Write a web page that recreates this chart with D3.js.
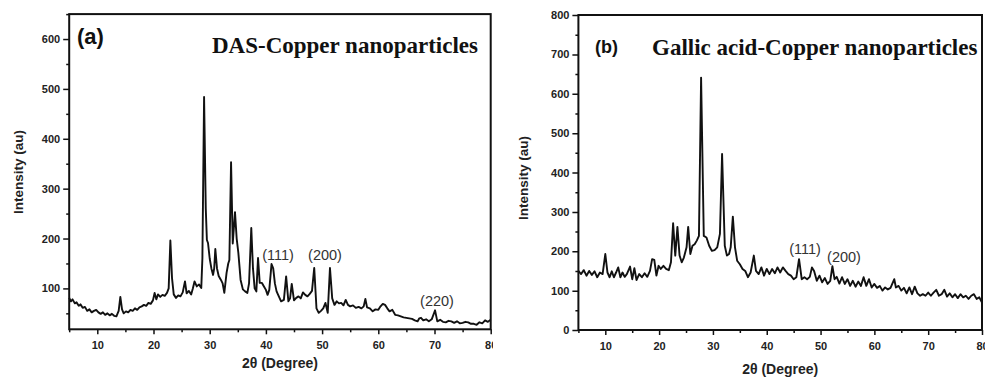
<!DOCTYPE html>
<html>
<head>
<meta charset="utf-8">
<script src="https://cdn.jsdelivr.net/npm/d3@7"></script>
<style>
  body { margin: 0; background: #fff; }
  svg { display: block; }
  .tick text { font-family: "Liberation Sans", Arial, sans-serif; font-weight: bold; font-size: 11px; fill: #222; }
  .axis path, .axis line { stroke: #111; }
</style>
</head>
<body>
<svg id="chart" width="985" height="377"></svg>
<script>
// XRD pattern (a): DAS-Copper nanoparticles, [2theta, intensity]
const dasXrd = [
  [5,81],[5.3,74],[5.6,78],[6,70],[6.3,72],[6.7,65],[7,68],[7.4,61],[7.8,63],[8.2,55],[8.6,58],[9,52],[9.4,55],[9.8,57],
  [10.2,52],[10.6,49],[11,52],[11.4,47],[11.8,50],[12.2,46],[12.6,49],[13,45],[13.4,44],[13.8,55],[14.1,83],[14.4,58],
  [14.7,50],[15.1,54],[15.5,52],[15.9,57],[16.3,55],[16.7,60],[17.1,57],[17.5,62],[17.9,64],[18.3,67],[18.7,65],[19.1,71],
  [19.5,69],[19.9,76],[20.2,91],[20.5,78],[20.8,88],[21.2,83],[21.6,87],[22,85],[22.4,91],[22.7,100],[23,196],[23.3,120],
  [23.6,88],[24,81],[24.4,86],[24.8,84],[25.2,92],[25.6,114],[25.9,90],[26.3,95],[26.7,88],[27,100],[27.3,114],[27.7,104],
  [28.1,108],[28.5,101],[28.7,160],[29,484],[29.3,260],[29.5,197],[29.7,191],[30,160],[30.3,140],[30.6,127],[30.8,140],
  [31,179],[31.3,140],[31.6,125],[32,117],[32.3,110],[32.6,91],[33,131],[33.3,150],[33.5,157],[33.8,353],[34.1,190],
  [34.5,253],[34.8,200],[35.1,171],[35.5,117],[35.9,98],[36.3,94],[36.7,91],[37,110],[37.4,221],[37.7,140],[38,100],
  [38.3,94],[38.6,161],[38.9,111],[39.3,111],[39.6,105],[40,97],[40.3,87],[40.6,97],[41,149],[41.3,140],[41.6,110],
  [41.9,94],[42.3,84],[42.7,74],[43.2,77],[43.6,124],[44,74],[44.3,80],[44.6,109],[45,76],[45.4,81],[45.8,84],[46.2,80],
  [46.6,92],[47,87],[47.4,84],[47.8,89],[48.2,95],[48.6,141],[49,60],[49.4,51],[49.8,55],[50.2,60],[50.6,71],[51,51],
  [51.4,141],[51.8,80],[52.2,67],[52.6,74],[53,70],[53.4,71],[53.8,66],[54.2,77],[54.6,67],[55,64],[55.5,66],[56,61],
  [56.5,63],[57,60],[57.4,64],[57.7,79],[58,62],[58.5,60],[59,54],[59.5,58],[60,57],[60.4,64],[60.8,69],[61.2,67],
  [61.6,60],[62,54],[62.5,57],[63,47],[63.5,46],[64,44],[64.5,42],[65,41],[65.5,40],[66,39],[66.5,36],[67,34],[67.3,40],
  [67.6,41],[68,36],[68.5,38],[69,34],[69.5,38],[70.1,56],[70.5,34],[71,37],[71.5,33],[72,32],[72.5,35],[73,34],
  [73.5,31],[74,34],[74.5,30],[75,31],[75.5,33],[76,32],[76.5,29],[77,29],[77.5,27],[78,32],[78.5,30],[79,36],[79.5,33],[80,37]
];

// XRD pattern (b): Gallic acid-Copper nanoparticles, [2theta, intensity]
const gallicXrd = [
  [5,150],[5.5,142],[6,152],[6.5,138],[7,150],[7.5,140],[8,149],[8.5,134],[9,146],[9.5,142],[10,193],[10.4,146],
  [10.8,134],[11.2,149],[11.6,134],[12,146],[12.4,159],[12.8,134],[13.2,146],[13.6,135],[14,142],[14.6,161],[15,129],
  [15.4,157],[15.8,127],[16.3,142],[16.8,134],[17.3,144],[17.8,135],[18.3,150],[18.7,180],[19.1,178],[19.5,138],[19.9,163],
  [20.3,155],[20.8,163],[21.3,155],[21.8,152],[22.2,172],[22.6,271],[23,189],[23.4,262],[23.8,189],[24.2,172],[24.6,184],
  [25.1,210],[25.4,262],[25.8,193],[26.2,214],[26.6,218],[27,227],[27.4,239],[27.8,641],[28.3,239],[28.8,235],[29.3,214],
  [29.8,201],[30.3,203],[30.8,210],[31.3,244],[31.7,447],[32.2,214],[32.6,189],[33,193],[33.3,210],[33.7,288],[34.1,210],
  [34.5,176],[35,167],[35.5,155],[36,150],[36.5,134],[37,146],[37.6,189],[38,150],[38.5,142],[39,159],[39.5,138],[40,155],
  [40.5,142],[41,155],[41.5,144],[42,159],[42.5,146],[43,159],[43.5,150],[44,142],[44.5,138],[45,129],[45.5,134],[46,180],
  [46.5,129],[47,134],[47.5,129],[48,135],[48.4,159],[48.8,150],[49.3,125],[49.8,138],[50.3,121],[50.8,132],[51.3,117],
  [51.8,125],[52.2,162],[52.6,129],[53,135],[53.5,118],[54,134],[54.5,117],[55,129],[55.5,112],[56,125],[56.5,110],
  [57,123],[57.5,112],[58,134],[58.5,112],[59,129],[59.5,108],[60,117],[60.5,107],[61,112],[61.5,100],[62,108],[62.5,103],
  [63,107],[63.7,129],[64,108],[64.5,112],[65,100],[65.5,107],[66,93],[66.5,108],[67,91],[67.5,110],[68,93],[68.5,87],
  [69,91],[69.5,87],[70,95],[70.5,87],[71,95],[71.5,102],[72,87],[72.5,91],[73,102],[73.5,85],[74,93],[74.5,83],[75,91],
  [75.5,81],[76,91],[76.5,83],[77,87],[77.5,79],[78,87],[78.5,91],[79,79],[79.5,83],[80,70]
];

const xTicks = [10, 20, 30, 40, 50, 60, 70, 80];
const dasYTicks = [100, 200, 300, 400, 500, 600];
const gallicYTicks = [0, 100, 200, 300, 400, 500, 600, 700, 800];
const dasPeaks = [
  { label: "(111)", x: 278, y: 260 },
  { label: "(200)", x: 325, y: 260 },
  { label: "(220)", x: 437, y: 306 }
];
const gallicPeaks = [
  { label: "(111)", x: 805, y: 254 },
  { label: "(200)", x: 844, y: 262 }
];

const svg = d3.select("#chart");
const sans = '"Liberation Sans", Arial, sans-serif';
const serif = '"Liberation Serif", "Times New Roman", serif';

function drawPanel({ id, data, xRange, yDomain, yRange, yTicks, yMinorStep, tag, tagX, tagY, tagSize,
                     title, titleX, titleY, peaks, yTitleX, yTitleY, xTitleY, clipRight }) {
  const clipId = `clip-${id}`;
  svg.append("clipPath").attr("id", clipId)
    .append("rect").attr("x", xRange[0] - 70).attr("y", 0)
    .attr("width", clipRight - xRange[0] + 70).attr("height", 377);

  const g = svg.append("g").attr("clip-path", `url(#${clipId})`);

  const x = d3.scaleLinear().domain([5, 80]).range(xRange);
  const y = d3.scaleLinear().domain(yDomain).range(yRange);

  const [x0, x1] = xRange;
  const [yb, yt] = yRange;

  // minor ticks
  const xMinor = d3.range(5, 81, 5).filter((v) => v % 10 !== 0);
  g.append("g").attr("class", "axis").attr("transform", `translate(0,${yb})`)
    .call(d3.axisBottom(x).tickValues(xMinor).tickSize(3).tickFormat(""))
    .call((s) => s.select(".domain").remove())
    .selectAll("line").attr("stroke-width", 1.5);

  const yMinor = d3.range(yMinorStep / 2, yDomain[1] + 1, yMinorStep).filter((v) => v >= yDomain[0] && v <= yDomain[1]);
  g.append("g").attr("class", "axis").attr("transform", `translate(${x0},0)`)
    .call(d3.axisLeft(y).tickValues(yMinor).tickSize(3).tickFormat(""))
    .call((s) => s.select(".domain").remove())
    .selectAll("line").attr("stroke-width", 1.5);

  // major ticks
  const xAxis = g.append("g").attr("class", "axis").attr("transform", `translate(0,${yb})`)
    .call(d3.axisBottom(x).tickValues(xTicks).tickSize(5).tickPadding(7).tickFormat(d3.format("d")));
  xAxis.select(".domain").remove();
  xAxis.selectAll("line").attr("stroke-width", 1.5);

  const yAxis = g.append("g").attr("class", "axis").attr("transform", `translate(${x0},0)`)
    .call(d3.axisLeft(y).tickValues(yTicks).tickSize(6).tickPadding(3).tickFormat(d3.format("d")));
  yAxis.select(".domain").remove();
  yAxis.selectAll("line").attr("stroke-width", 1.5);

  // trace
  const line = d3.line().x((d) => x(d[0])).y((d) => y(d[1])).curve(d3.curveLinear);
  g.append("path").datum(data)
    .attr("d", line)
    .attr("fill", "none")
    .attr("stroke", "#111")
    .attr("stroke-width", 1.9)
    .attr("stroke-linejoin", "round");

  // frame
  g.append("rect")
    .attr("x", x0).attr("y", yt)
    .attr("width", x1 - x0).attr("height", yb - yt)
    .attr("fill", "none").attr("stroke", "#111").attr("stroke-width", 2);

  // panel tag + title
  g.append("text").attr("x", tagX).attr("y", tagY)
    .attr("font-family", sans).attr("font-weight", "bold").attr("font-size", tagSize)
    .attr("fill", "#111").text(tag);
  g.append("text").attr("x", titleX).attr("y", titleY)
    .attr("font-family", serif).attr("font-weight", "bold").attr("font-size", 23)
    .attr("fill", "#111").text(title);

  // peak labels
  g.selectAll("text.peak").data(peaks).join("text")
    .attr("class", "peak")
    .attr("x", (d) => d.x).attr("y", (d) => d.y)
    .attr("text-anchor", "middle")
    .attr("font-family", sans).attr("font-size", 14.5)
    .attr("fill", "#333").text((d) => d.label);

  // axis titles
  g.append("text")
    .attr("transform", `translate(${yTitleX},${yTitleY}) rotate(-90)`)
    .attr("text-anchor", "middle")
    .attr("font-family", sans).attr("font-weight", "bold").attr("font-size", 13.5)
    .attr("fill", "#222").text("Intensity (au)");
  g.append("text")
    .attr("x", (x0 + x1) / 2).attr("y", xTitleY)
    .attr("text-anchor", "middle")
    .attr("font-family", sans).attr("font-weight", "bold").attr("font-size", 14)
    .attr("fill", "#222").text("2θ (Degree)");
}

drawPanel({
  id: "a", data: dasXrd,
  xRange: [69.2, 490.7], yDomain: [18, 650], yRange: [329.3, 14.1],
  yTicks: dasYTicks, yMinorStep: 100,
  tag: "(a)", tagX: 77, tagY: 44, tagSize: 22,
  title: "DAS-Copper nanoparticles", titleX: 212, titleY: 53,
  peaks: dasPeaks, yTitleX: 23, yTitleY: 172, xTitleY: 368, clipRight: 493
});

drawPanel({
  id: "b", data: gallicXrd,
  xRange: [578.4, 982], yDomain: [0, 800], yRange: [330, 15],
  yTicks: gallicYTicks, yMinorStep: 100,
  tag: "(b)", tagX: 595, tagY: 53, tagSize: 18,
  title: "Gallic acid-Copper nanoparticles", titleX: 652, titleY: 55,
  peaks: gallicPeaks, yTitleX: 528, yTitleY: 178, xTitleY: 374, clipRight: 985
});
</script>
</body>
</html>
